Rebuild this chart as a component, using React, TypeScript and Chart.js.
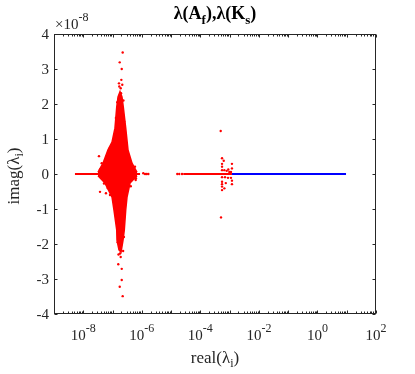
import React, { useEffect, useRef } from "react";
import { Chart, registerables } from "chart.js";

Chart.register(...registerables);

// ---- axis ranges / ticks ----
const X_MIN = 1e-9;
const X_MAX = 1e2;
const Y_UNIT = 1e-8; // values below are in units of 1e-8
const Y_MIN = -4;
const Y_MAX = 4;
const yTickValues = [-4, -3, -2, -1, 0, 1, 2, 3, 4];
const xTickExponents = [-9, -8, -7, -6, -5, -4, -3, -2, -1, 0, 1, 2];
const xLabelExponents = [-8, -6, -4, -2, 0, 2];

// ---- eigenvalues of A_f: dense cluster envelope (real, imag x1e-8) ----
const clusterUpperX = [3.18e-8, 4.72e-8, 7.0e-8, 9.6e-8, 1.21e-7, 1.39e-7, 1.54e-7, 1.8e-7, 2.1e-7, 2.33e-7, 2.82e-7, 3.37e-7, 4.62e-7, 6.86e-7];
const clusterUpperY = [0.05, 0.31, 0.69, 0.91, 1.31, 1.91, 2.2, 2.35, 2.2, 1.91, 1.31, 0.69, 0.31, 0.05];
const clusterLowerX = [3.18e-8, 5.52e-8, 9.6e-8, 1.12e-7, 1.39e-7, 1.42e-7, 1.66e-7, 1.95e-7, 2.28e-7, 2.52e-7, 2.82e-7, 3.12e-7, 3.96e-7, 6.86e-7];
const clusterLowerY = [-0.05, -0.26, -0.66, -1.03, -1.6, -1.89, -2.17, -2.23, -1.89, -1.6, -1.03, -0.66, -0.26, -0.05];

// ---- eigenvalues of A_f: scattered points ----
const redPointsX = [
  2.22e-7, 1.76e-7, 2.06e-7, 2.0e-7, 1.66e-7, 1.9e-7, 1.95e-7,
  1.8e-7, 1.9e-7, 1.57e-7, 2.06e-7, 2.06e-7, 1.76e-7, 2.22e-7,
  3.44e-8, 3.73e-8, 4.47e-8, 5.2e-8, 7.16e-8, 8.65e-8, 5.83e-8, 5.1e-8, 5.95e-8, 8.18e-8,
  4.52e-7, 5.53e-7, 6.18e-7, 1.12e-6, 1.47e-6, 1.67e-6, 3.73e-8, 4.27e-8,
  4.27e-8, 1.06e-7, 9.35e-8, 5.85e-7, 6.3e-7, 1.29e-6,
  1.3e-7, 2.5e-7, 1.45e-7, 2.35e-7, 1.5e-7, 2.45e-7, 1.7e-7, 2.15e-7, 1.6e-7, 2.3e-7,
  6.5e-8, 7.8e-8, 3.8e-7, 4.2e-7, 6.8e-8, 3.5e-7,
  1.63e-5, 1.9e-5, 2.36e-5,
  4.95e-4, 5.5e-4, 6.28e-4, 5.5e-4, 1.2e-3, 5.5e-4, 1.2e-3, 5.5e-4, 6.6e-4, 7.94e-4, 9.0e-4, 9.77e-4, 1.11e-3,
  5.5e-4, 6.95e-4, 8.8e-4, 1.11e-3, 1.2e-3, 5.5e-4, 7.4e-4, 5.5e-4, 1.2e-3, 5.5e-4, 5.5e-4, 6.6e-4, 5.08e-4,
];
const redPointsY = [
  3.47, 3.19, 3.0, 2.69, 2.59, 2.45, 2.31,
  -2.27, -2.37, -2.58, -2.71, -3.03, -3.22, -3.49,
  0.51, -0.51, 0.11, 0.31, 0.61, 0.64, -0.08, -0.27, -0.55, -0.6,
  0.19, -0.12, -0.17, 0.02, 0.0, 0.0, 0.13, -0.08,
  0.31, 0.88, 0.73, 0.21, -0.12, 0.0,
  1.6, 1.5, 2.05, 2.1, -1.95, -1.8, 2.5, 2.55, -2.3, -2.2,
  0.45, 0.72, 0.42, -0.35, -0.4, 0.5,
  0.0, 0.0, 0.0,
  1.23, 0.45, 0.38, 0.29, 0.29, 0.21, 0.16, 0.11, 0.11, 0.09, 0.13, 0.06, 0.06,
  -0.09, -0.09, -0.11, -0.11, -0.19, -0.22, -0.26, -0.29, -0.29, -0.36, -0.46, -0.41, -1.24,
];

// ---- real-axis segments (imag = 0) ----
const redSegment1X = [5.2e-9, 8.7e-7];
const redSegment2X = [2.6e-5, 1.2e-3];
const blueSegmentX = [1.2e-3, 9.46];

const SERIF = '"Liberation Serif", "Times New Roman", serif';
const AXIS_COLOR = "#262626";

type Seg = { text: string; font: string; dy: number };

function drawSegs(ctx: CanvasRenderingContext2D, segs: Seg[], cx: number, baseline: number) {
  let total = 0;
  const widths = segs.map((s) => {
    ctx.font = s.font;
    const w = ctx.measureText(s.text).width;
    total += w;
    return w;
  });
  let x = cx - total / 2;
  ctx.textAlign = "left";
  ctx.textBaseline = "alphabetic";
  segs.forEach((s, i) => {
    ctx.font = s.font;
    ctx.fillText(s.text, x, baseline + s.dy);
    x += widths[i];
  });
}

const axesPlugin = {
  id: "matlabAxes",
  afterDraw(chart: any) {
    const ctx: CanvasRenderingContext2D = chart.ctx;
    const { left, right, top, bottom } = chart.chartArea;
    const xs = chart.scales.x;
    const ys = chart.scales.y;
    ctx.save();
    ctx.strokeStyle = AXIS_COLOR;
    ctx.fillStyle = AXIS_COLOR;
    ctx.lineWidth = 1;
    const L = Math.round(left) + 0.5;
    const R = Math.round(right) - 0.5;
    const T = Math.round(top) + 0.5;
    const B = Math.round(bottom) - 0.5;
    ctx.strokeRect(L, T, R - L, B - T);

    const tickLen = 3;
    ctx.beginPath();
    yTickValues.forEach((v) => {
      const py = Math.round(ys.getPixelForValue(v * Y_UNIT)) + 0.5;
      ctx.moveTo(L, py);
      ctx.lineTo(L + tickLen, py);
      ctx.moveTo(R, py);
      ctx.lineTo(R - tickLen, py);
    });
    xTickExponents.forEach((e) => {
      const mults = e < 2 ? [1, 2, 3, 4, 5, 6, 7, 8, 9] : [1];
      mults.forEach((m) => {
        const v = m * Math.pow(10, e);
        const px = Math.round(xs.getPixelForValue(v)) + 0.5;
        const len = m === 1 ? tickLen : 2;
        ctx.moveTo(px, B);
        ctx.lineTo(px, B - len);
        ctx.moveTo(px, T);
        ctx.lineTo(px, T + len);
      });
    });
    ctx.stroke();

    // y tick labels
    ctx.font = `15px ${SERIF}`;
    ctx.textAlign = "right";
    ctx.textBaseline = "middle";
    yTickValues.forEach((v) => {
      const py = ys.getPixelForValue(v * Y_UNIT);
      ctx.fillText(String(v), left - 5, py + 1);
    });

    // x tick labels 10^e
    xLabelExponents.forEach((e) => {
      const px = xs.getPixelForValue(Math.pow(10, e));
      drawSegs(
        ctx,
        [
          { text: "10", font: `15px ${SERIF}`, dy: 0 },
          { text: String(e), font: `12px ${SERIF}`, dy: -8 },
        ],
        px,
        bottom + 26
      );
    });

    // exponent multiplier
    ctx.textAlign = "left";
    ctx.textBaseline = "alphabetic";
    ctx.font = `15px ${SERIF}`;
    const mulText = "\u00d710";
    ctx.fillText(mulText, left + 1, top - 5);
    const mw = ctx.measureText(mulText).width;
    ctx.font = `12px ${SERIF}`;
    ctx.fillText("-8", left + 1 + mw, top - 13);

    // title
    ctx.fillStyle = "#000000";
    const cx = (left + right) / 2;
    drawSegs(
      ctx,
      [
        { text: "\u03bb(A", font: `bold 18px ${SERIF}`, dy: 0 },
        { text: "f", font: `bold 13px ${SERIF}`, dy: 5 },
        { text: "),\u03bb(K", font: `bold 18px ${SERIF}`, dy: 0 },
        { text: "s", font: `bold 13px ${SERIF}`, dy: 5 },
        { text: ")", font: `bold 18px ${SERIF}`, dy: 0 },
      ],
      cx,
      19
    );

    // x axis title
    ctx.fillStyle = AXIS_COLOR;
    drawSegs(
      ctx,
      [
        { text: "real(\u03bb", font: `17px ${SERIF}`, dy: 0 },
        { text: "i", font: `12px ${SERIF}`, dy: 4 },
        { text: ")", font: `17px ${SERIF}`, dy: 0 },
      ],
      cx,
      bottom + 49
    );

    // y axis title
    ctx.save();
    ctx.translate(19, (top + bottom) / 2 + 2);
    ctx.rotate(-Math.PI / 2);
    drawSegs(
      ctx,
      [
        { text: "imag(\u03bb", font: `17px ${SERIF}`, dy: 0 },
        { text: "i", font: `12px ${SERIF}`, dy: 4 },
        { text: ")", font: `17px ${SERIF}`, dy: 0 },
      ],
      0,
      0
    );
    ctx.restore();
    ctx.restore();
  },
};

const toPts = (xs: number[], ys: number[]) => xs.map((x, i) => ({ x, y: ys[i] * Y_UNIT }));
const onAxis = (xs: number[]) => xs.map((x) => ({ x, y: 0 }));

export default function App() {
  const ref = useRef<HTMLCanvasElement | null>(null);
  useEffect(() => {
    document.body.style.margin = "0";
    const canvas = ref.current!;
    const RED = "#ff0000";
    const BLUE = "#0000ff";
    const chart = new Chart(canvas, {
      type: "scatter",
      data: {
        datasets: [
          {
            data: onAxis(blueSegmentX),
            showLine: true,
            borderColor: BLUE,
            borderWidth: 2,
            pointRadius: 0,
          },
          {
            data: toPts(redPointsX, redPointsY),
            showLine: false,
            backgroundColor: RED,
            borderWidth: 0,
            pointRadius: 1.2,
          },
          {
            data: onAxis(redSegment1X),
            showLine: true,
            borderColor: RED,
            borderWidth: 2,
            pointRadius: 0,
          },
          {
            data: onAxis(redSegment2X),
            showLine: true,
            borderColor: RED,
            borderWidth: 2,
            pointRadius: 0,
          },
          {
            data: toPts(clusterUpperX, clusterUpperY),
            showLine: true,
            borderColor: RED,
            borderWidth: 1.5,
            backgroundColor: RED,
            fill: "origin",
            pointRadius: 0,
            tension: 0,
          },
          {
            data: toPts(clusterLowerX, clusterLowerY),
            showLine: true,
            borderColor: RED,
            borderWidth: 1.5,
            backgroundColor: RED,
            fill: "origin",
            pointRadius: 0,
            tension: 0,
          },
        ],
      } as any,
      options: {
        responsive: false,
        animation: false,
        layout: { padding: { left: 54, top: 34, right: 39, bottom: 60 } },
        plugins: {
          legend: { display: false },
          tooltip: { enabled: false },
          title: { display: false },
        },
        scales: {
          x: { type: "logarithmic", min: X_MIN, max: X_MAX, display: false },
          y: { type: "linear", min: Y_MIN * Y_UNIT, max: Y_MAX * Y_UNIT, display: false },
        },
      } as any,
      plugins: [axesPlugin],
    });
    return () => chart.destroy();
  }, []);
  return (
    <div style={{ width: 415, height: 374, background: "#ffffff", overflow: "hidden" }}>
      <canvas ref={ref} width={415} height={374} style={{ display: "block" }} />
    </div>
  );
}
